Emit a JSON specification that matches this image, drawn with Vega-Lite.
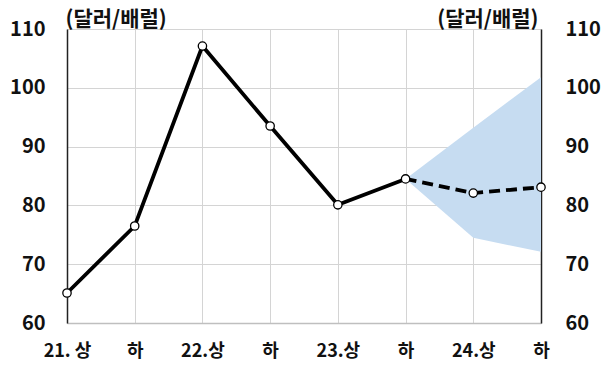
{
  "$schema": "https://vega.github.io/schema/vega-lite/v6.json",
  "width": 474,
  "height": 294,
  "autosize": "none",
  "padding": {"left": 67, "top": 29, "right": 62, "bottom": 46},
  "background": "white",
  "config": {
    "view": {"stroke": null},
    "font": "Noto Sans CJK KR",
    "axis": {"labelFont": "Noto Sans CJK KR", "titleFont": "Noto Sans CJK KR"}
  },
  "data": {
    "values": [
      {"p": "21. 상", "v": 65.1, "seg": "actual"},
      {"p": "21 하", "v": 76.5, "seg": "actual"},
      {"p": "22.상", "v": 107.1, "seg": "actual"},
      {"p": "22 하", "v": 93.5, "seg": "actual"},
      {"p": "23.상", "v": 80.1, "seg": "actual"},
      {"p": "23 하", "v": 84.5, "seg": "both", "lo": 84.5, "hi": 84.5},
      {"p": "24.상", "v": 82.1, "seg": "fcst", "lo": 74.5, "hi": 93.2},
      {"p": "24 하", "v": 83.1, "seg": "fcst", "lo": 72.1, "hi": 101.8}
    ]
  },
  "encoding": {
    "x": {
      "field": "p", "type": "ordinal",
      "sort": ["21. 상", "21 하", "22.상", "22 하", "23.상", "23 하", "24.상", "24 하"],
      "scale": {"type": "point", "padding": 0},
      "axis": {
        "title": null, "labelAngle": 0, "grid": true, "gridColor": "#d4d4d4", "gridWidth": 1,
        "domainColor": "#bfbfbf", "domainWidth": 1.5, "ticks": false,
        "labelFontSize": 18, "labelFontWeight": "bold", "labelColor": "#111",
        "labelPadding": 19,
        "labelExpr": "indexof(datum.label,'하')>=0 ? '하' : datum.label"
      }
    }
  },
  "layer": [
    {
      "transform": [{"filter": "datum.lo != null"}],
      "mark": {"type": "area", "color": "#c6dcf1", "opacity": 1},
      "encoding": {
        "y": {
          "field": "lo", "type": "quantitative",
          "scale": {"domain": [60, 110], "nice": false, "zero": false},
          "axis": {
            "orient": "left", "values": [60, 70, 80, 90, 100, 110],
            "grid": true, "gridColor": "#d4d4d4", "gridWidth": 1,
            "domainColor": "#222", "domainWidth": 1.5, "ticks": false,
            "labelFontSize": 20, "labelFontWeight": "bold", "labelColor": "#111",
            "labelPadding": 22,
            "title": "(달러/배럴)", "titleAngle": 0, "titleAlign": "left",
            "titleBaseline": "alphabetic", "titleX": -2, "titleY": -4,
            "titleFontSize": 21, "titleFontWeight": "bold", "titleColor": "#111"
          }
        },
        "y2": {"field": "hi"}
      }
    },
    {
      "transform": [{"filter": "datum.seg != 'fcst'"}],
      "mark": {"type": "line", "color": "#000", "strokeWidth": 3.8},
      "encoding": {
        "y": {
          "field": "v", "type": "quantitative",
          "axis": {
            "orient": "right", "values": [60, 70, 80, 90, 100, 110],
            "grid": false,
            "domainColor": "#222", "domainWidth": 1.5, "ticks": false,
            "labelFontSize": 20, "labelFontWeight": "bold", "labelColor": "#111",
            "labelPadding": 24,
            "title": "(달러/배럴)", "titleAngle": 0, "titleAlign": "right",
            "titleBaseline": "alphabetic", "titleX": -3, "titleY": -4,
            "titleFontSize": 21, "titleFontWeight": "bold", "titleColor": "#111"
          }
        }
      }
    },
    {
      "transform": [{"filter": "datum.seg != 'actual'"}],
      "mark": {"type": "line", "color": "#000", "strokeWidth": 3.8, "strokeDash": [11, 6]},
      "encoding": {"y": {"field": "v", "type": "quantitative", "axis": null}}
    },
    {
      "mark": {"type": "point", "filled": true, "fill": "white", "stroke": "#000", "strokeWidth": 1.3, "size": 70, "opacity": 1},
      "encoding": {"y": {"field": "v", "type": "quantitative", "axis": null}}
    }
  ],
  "resolve": {"axis": {"y": "independent"}}
}
